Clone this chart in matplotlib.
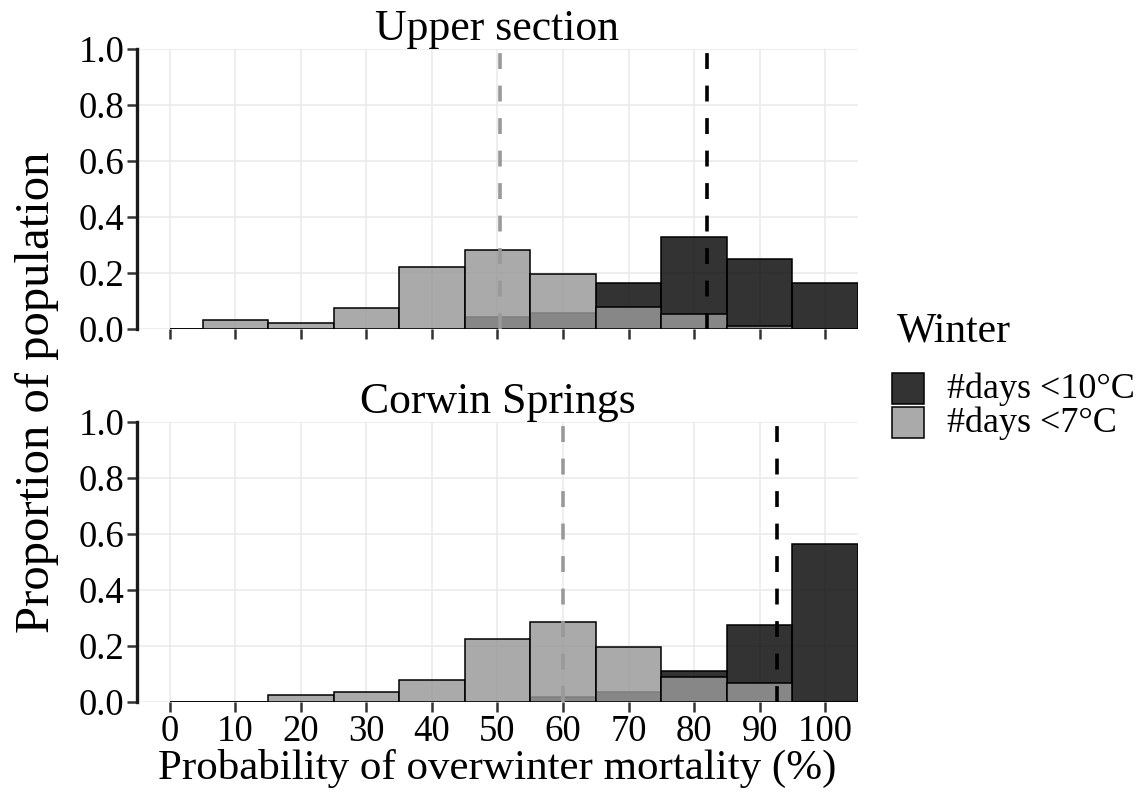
import matplotlib

matplotlib.use("Agg")
import matplotlib.pyplot as plt
from matplotlib.patches import Rectangle

plt.rcParams["font.family"] = ["Liberation Serif", "DejaVu Serif"]

# bins: first one starts at 0, the rest are 10 wide centred on the ticks
bin_left = [0, 5, 15, 25, 35, 45, 55, 65, 75, 85, 95]
bin_width = [5, 10, 10, 10, 10, 10, 10, 10, 10, 10, 10]

panels = ["Upper section", "Corwin Springs"]
days10 = {
    "Upper section": [0, 0, 0, 0, 0, 0.044, 0.058, 0.164, 0.327, 0.251, 0.164],
    "Corwin Springs": [0, 0, 0, 0, 0, 0, 0.019, 0.035, 0.112, 0.275, 0.564],
}
days7 = {
    "Upper section": [0, 0.032, 0.022, 0.075, 0.221, 0.281, 0.196, 0.080, 0.054, 0.012, 0],
    "Corwin Springs": [0, 0, 0.026, 0.034, 0.078, 0.225, 0.285, 0.196, 0.090, 0.067, 0],
}
mean10 = {"Upper section": 81.9, "Corwin Springs": 92.6}
mean7 = {"Upper section": 50.4, "Corwin Springs": 60.0}

labels = ["#days <10°C", "#days <7°C"]
dark = (0, 0, 0, 0.8)
light = (0.6, 0.6, 0.6, 0.833)

W, H = 1145, 800
fig = plt.figure(figsize=(W / 100, H / 100), dpi=100)
axes = [fig.add_axes([137 / W, 1 - 329 / H, 721 / W, 280 / H]),
        fig.add_axes([137 / W, 1 - 702 / H, 721 / W, 280 / H])]

for ax, name in zip(axes, panels):
    ax.bar(bin_left, days10[name], width=bin_width, align="edge", color=dark,
           edgecolor="black", linewidth=1.1, zorder=2)
    ax.bar(bin_left, days7[name], width=bin_width, align="edge", color=light,
           edgecolor="black", linewidth=1.1, zorder=3)
    ax.axvline(mean7[name], color="#999999", lw=2.6, ls=(0, (4.4, 4.6)), zorder=4)
    ax.axvline(mean10[name], color="black", lw=2.6, ls=(0, (4.4, 4.6)), zorder=4)

    ax.set_xlim(-5, 105)
    ax.set_ylim(0, 1)
    ax.set_xticks(range(0, 101, 10))
    ax.set_yticks([0, 0.2, 0.4, 0.6, 0.8, 1.0])
    ax.set_yticklabels(["0.0", "0.2", "0.4", "0.6", "0.8", "1.0"])
    ax.grid(color="#ebebeb", lw=1.2, zorder=0)
    ax.set_axisbelow(True)
    for side in ("top", "right", "bottom"):
        ax.spines[side].set_visible(False)
    ax.spines["left"].set_linewidth(2.4)
    ax.spines["left"].set_color("#1a1a1a")
    ax.tick_params(axis="both", length=7, width=1.8, color="#333333",
                   labelsize=26.5, pad=2)
    ax.set_title(name, fontsize=31.5, pad=2)

axes[0].set_xticklabels([])
axes[1].set_xlabel("Probability of overwinter mortality (%)", fontsize=31, labelpad=0)
fig.text(0.032, 0.51, "Proportion of population", rotation=90, fontsize=35,
         ha="center", va="center")

# legend drawn by hand so the keys sit flush like the original
fig.text(897 / W, 1 - 342 / H, "Winter", fontsize=30, ha="left", va="baseline")
for i, (label, colour) in enumerate(zip(labels, [dark, light])):
    top = 373 + i * 34
    fig.add_artist(Rectangle((892 / W, 1 - (top + 31) / H), 32 / W, 31 / H,
                             transform=fig.transFigure, facecolor=colour,
                             edgecolor="black", linewidth=1.1))
    fig.text(947 / W, 1 - (top + 16) / H, label, fontsize=26, ha="left", va="center")

fig.savefig("out.png", dpi=100)
